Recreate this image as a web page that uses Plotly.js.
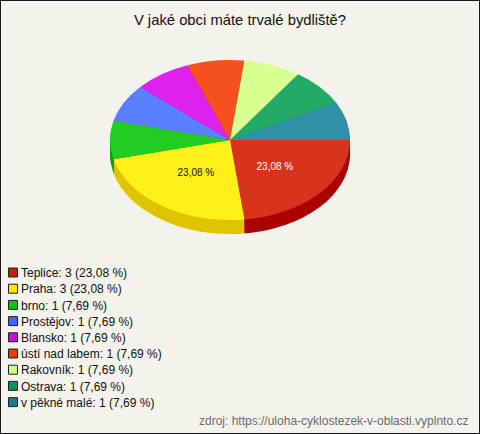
<!DOCTYPE html>
<html><head><meta charset="utf-8">
<script src="https://cdn.plot.ly/plotly-3.0.1.min.js"></script>
<style>
html,body{margin:0;padding:0;background:#f4f3eb}
#chart{width:478px;height:432px;border:1px solid #1a1a1a}
</style>
</head><body>
<div id="chart"></div>
<script>
// ---- data ----
const cities = ['Teplice', 'Praha', 'brno', 'Prostějov', 'Blansko', 'ústí nad labem', 'Rakovník', 'Ostrava', 'v pěkné malé'];
const counts = [3, 3, 1, 1, 1, 1, 1, 1, 1];
const topColors = ['#d8341d', '#fff01a', '#22cc22', '#5a80ff', '#dd22ee', '#f55020', '#d8ff90', '#22aa66', '#3090a8'];
const sideColors = ['#aa0400', '#e0c400', '#0c9a0c', '#3a58c8', '#a010b0', '#c03010', '#a8d070', '#108050', '#1c6a80'];
const legendSwatchColors = ['#c0200c', '#ffe800', '#10c010', '#4466ff', '#c010d0', '#e04010', '#ccff80', '#109060', '#207890'];
const sliceTextColors = ['#ffffff', '#111111', '#111111', '#ffffff', '#ffffff', '#ffffff', '#111111', '#ffffff', '#ffffff'];
const titleText = 'V jaké obci máte trvalé bydliště?';
const sourceText = 'zdroj: https://uloha-cyklostezek-v-oblasti.vyplnto.cz';

// ---- derived ----
const total = counts.reduce((a, b) => a + b, 0);
const pctStr = counts.map(v => (v / total * 100).toFixed(2).replace('.', ',') + ' %');
const legendLabels = cities.map((c, i) => `${c}: ${counts[i]} (${pctStr[i]})`);
const sliceText = counts.map((v, i) => (v / total >= 0.1 ? pctStr[i] : ''));
const midAngles = [];
counts.reduce((cum, v) => { midAngles.push(2 * Math.PI * (cum + v / 2) / total); return cum + v; }, 0);

// ---- geometry ----
const W = 478, H = 432;
const CX = 229, CY = 139, R = 120, K = 80 / 120, DEPTH = 14, STEP = 2, LABEL_F = 0.5;
const FONT = 'Arial, "Liberation Sans", sans-serif';
const domain = {x: [(CX - R) / W, (CX + R) / W], y: [(H - CY - R) / H, (H - CY + R) / H]};

const base = {type: 'pie', labels: legendLabels, values: counts, sort: false,
  direction: 'clockwise', rotation: 90, domain: domain, hoverinfo: 'skip'};
const traces = [];
const offsets = [];
for (let d = DEPTH; d >= STEP; d -= STEP) {
  traces.push(Object.assign({}, base, {marker: {colors: sideColors, line: {width: 0}},
    textinfo: 'none', showlegend: false, name: 'side' + d}));
  offsets.push(d);
}
traces.push(Object.assign({}, base, {
  marker: {colors: topColors, line: {width: 0}},
  text: sliceText, textinfo: 'text', textposition: 'inside',
  insidetextorientation: 'horizontal',
  insidetextfont: {family: FONT, size: 10, color: sliceTextColors},
  showlegend: true, name: 'top'}));
offsets.push(0);

const layout = {
  width: W, height: H,
  margin: {l: 0, r: 0, t: 0, b: 0, autoexpand: false},
  paper_bgcolor: '#f4f3eb', plot_bgcolor: '#f4f3eb',
  font: {family: FONT, color: '#000'},
  title: {text: titleText, font: {family: FONT, size: 14.8, color: '#111'},
    x: 0.5, xanchor: 'center', y: 1 - 19 / H, yanchor: 'middle'},
  showlegend: true,
  legend: {x: -20 / W, xanchor: 'left', y: (H - 257) / H, yanchor: 'top',
    bgcolor: 'rgba(0,0,0,0)', borderwidth: 0, font: {family: FONT, size: 12, color: '#111'},
    traceorder: 'normal'},
  annotations: [{text: sourceText, xref: 'paper', yref: 'paper', x: 469 / W, xanchor: 'right',
    y: 12 / H, yanchor: 'middle', showarrow: false, font: {family: FONT, size: 12, color: '#6b6b6b'}}]
};

const gd = document.getElementById('chart');
Plotly.newPlot(gd, traces, layout, {staticPlot: true, displayModeBar: false}).then(() => {
  const svgRect = gd.querySelector('.main-svg').getBoundingClientRect();
  gd.querySelectorAll('.pielayer g.trace').forEach(g => {
    const cd = g.__data__;
    const cd0 = cd[0];
    const d = offsets[cd0.trace.index];
    const cx = cd0.cx, cy = cd0.cy, r = cd0.r;
    const tf = `translate(0,${d}) translate(0,${cy}) scale(1,${K}) translate(0,${-cy})`;
    g.querySelectorAll('path.surface').forEach(p => p.setAttribute('transform', tf));
    g.querySelectorAll('g.slice').forEach(s => {
      const pt = s.__data__;
      const t = s.querySelector('g.slicetext');
      if (!t || !pt) return;
      const rc = t.getBoundingClientRect();
      if (!rc.height) return;
      const xc = (rc.left + rc.right) / 2 - svgRect.left;
      const yc = (rc.top + rc.bottom) / 2 - svgRect.top;
      const a = midAngles[pt.i];
      const tx = cx + LABEL_F * r * Math.cos(a);
      const ty = cy + LABEL_F * r * Math.sin(a) * K;
      t.setAttribute('transform', `translate(${tx - xc},${ty - yc})`);
    });
  });
  // legend: tighter spacing, smaller bordered squares
  const items = gd.querySelectorAll('.legend g.traces');
  let y0 = null;
  items.forEach((it, i) => {
    const m = /translate\(\s*([-\d.]+)[ ,]+([-\d.]+)\s*\)/.exec(it.getAttribute('transform') || '');
    if (!m) return;
    if (y0 === null) y0 = parseFloat(m[2]);
    it.setAttribute('transform', `translate(${m[1]},${y0 + i * 16.2})`);
  });
  gd.querySelectorAll('.legend path.legendpie').forEach((p, i) => {
    p.setAttribute('transform', 'translate(32,0) scale(0.75)');
    p.style.stroke = '#222';
    p.style.strokeWidth = '1.33px';
    p.style.fill = legendSwatchColors[i % legendSwatchColors.length];
  });
});
</script>
</body></html>
